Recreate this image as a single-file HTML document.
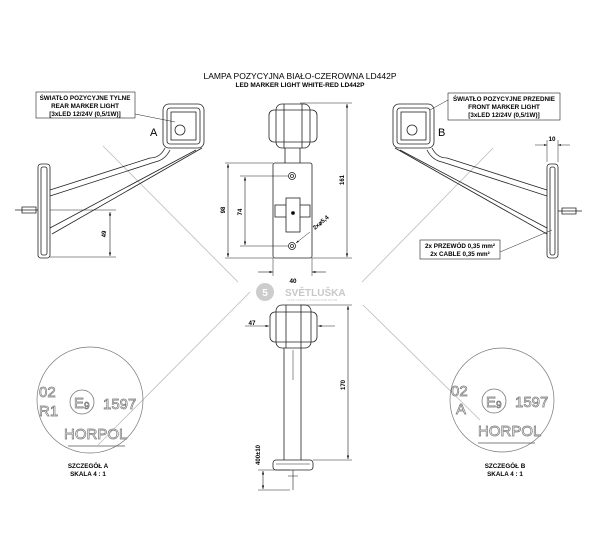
<!DOCTYPE html>
<html><head><meta charset="utf-8"><style>
html,body{margin:0;padding:0;background:#fff;}
svg{display:block;font-family:"Liberation Sans",sans-serif;}
</style></head><body>
<svg width="600" height="555" viewBox="0 0 600 555" xmlns="http://www.w3.org/2000/svg">
<defs>
<marker id="ar" viewBox="0 0 10 10" refX="10" refY="5" markerWidth="6" markerHeight="6" orient="auto-start-reverse"><path d="M0,2 L10,5 L0,8 z" fill="#000"/></marker>
</defs>
<rect width="600" height="555" fill="#fff"/>
<g stroke="#bbb" stroke-width="0.8" fill="none">
<line x1="103" y1="146" x2="238" y2="282"/>
<line x1="250" y1="292" x2="98" y2="445"/>
<line x1="493" y1="148" x2="362" y2="282"/>
<line x1="363" y1="305" x2="480" y2="420"/>
</g>
<text x="300" y="79" font-size="8.5" text-anchor="middle">LAMPA POZYCYJNA BIAŁO-CZEROWNA LD442P</text>
<text x="300" y="87" font-size="6.5" font-weight="bold" text-anchor="middle">LED MARKER LIGHT WHITE-RED LD442P</text>

<g stroke="#222" stroke-width="0.8" fill="none">
<rect x="163" y="104" width="41" height="44" rx="6"/>
<rect x="167" y="108" width="33" height="36" rx="3"/>
<rect x="171" y="112" width="25" height="28"/>
<circle cx="180" cy="130" r="5"/>
<path d="M165,148 Q160,158 150,158 L50,190"/>
<path d="M170,150 Q165,160 155,162 L50,196"/>
<path d="M196,150 L50,228"/>
<path d="M202,148 L52,234"/>
<rect x="38" y="164" width="12" height="94" rx="3"/>
<rect x="41" y="167" width="6" height="88" rx="2"/>
<path d="M15,210 L38,210 M22,207 L36,207 L36,213 L22,213 z"/>
<line x1="50" y1="210" x2="116" y2="210" stroke-width="0.5"/>
<line x1="50" y1="257" x2="116" y2="257" stroke-width="0.5"/>
<line x1="110" y1="212" x2="110" y2="256" marker-start="url(#ar)" marker-end="url(#ar)" stroke-width="0.6"/>
<rect x="36" y="92" width="99" height="26" stroke-width="0.6"/>
<line x1="135" y1="114" x2="175" y2="122" stroke-width="0.5"/>

<rect x="393" y="104" width="41" height="44" rx="6"/>
<rect x="397" y="108" width="33" height="36" rx="3"/>
<rect x="401" y="112" width="25" height="28"/>
<circle cx="412" cy="130" r="5"/>
<path d="M432,148 Q437,158 447,158 L547,190"/>
<path d="M427,150 Q432,160 442,162 L547,196"/>
<path d="M400,150 L547,228"/>
<path d="M395,148 L547,234"/>
<rect x="547" y="164" width="11" height="94" rx="3"/>
<rect x="550" y="167" width="5" height="88" rx="2"/>
<path d="M558,211 L582,211 M562,208 L576,208 L576,214 L562,214 z"/>
<line x1="547" y1="140" x2="547" y2="162" stroke-width="0.5"/>
<line x1="558" y1="140" x2="558" y2="162" stroke-width="0.5"/>
<line x1="535" y1="145" x2="547" y2="145" marker-end="url(#ar)" stroke-width="0.5"/>
<line x1="570" y1="145" x2="558" y2="145" marker-end="url(#ar)" stroke-width="0.5"/>
<rect x="448" y="93" width="112" height="27" stroke-width="0.6"/>
<line x1="448" y1="100" x2="430" y2="110" stroke-width="0.5"/>
<rect x="420" y="240" width="80" height="19" stroke-width="0.6"/>
<line x1="500" y1="252" x2="552" y2="230" stroke-width="0.5"/>

<rect x="269" y="110" width="48" height="32" rx="5"/>
<rect x="276" y="104" width="34" height="44" rx="6"/>
<line x1="284" y1="104" x2="284" y2="148"/>
<line x1="302" y1="104" x2="302" y2="148"/>
<line x1="285" y1="148" x2="285" y2="163"/>
<line x1="300" y1="148" x2="300" y2="163"/>
<rect x="273" y="163" width="39" height="95" rx="2"/>
<circle cx="292" cy="176" r="3.5"/><circle cx="292" cy="176" r="1.5"/>
<circle cx="292" cy="246" r="3.5"/><circle cx="292" cy="246" r="1.5"/>
<rect x="275" y="205" width="35" height="12"/>
<rect x="286" y="198" width="14" height="34" fill="#fff"/>
<circle cx="293" cy="213" r="1.5" fill="#000"/>
<line x1="225" y1="163" x2="273" y2="163" stroke-width="0.5"/>
<line x1="225" y1="258" x2="273" y2="258" stroke-width="0.5"/>
<line x1="240" y1="176" x2="288" y2="176" stroke-width="0.5"/>
<line x1="240" y1="246" x2="288" y2="246" stroke-width="0.5"/>
<line x1="228" y1="164" x2="228" y2="257" marker-start="url(#ar)" marker-end="url(#ar)" stroke-width="0.6"/>
<line x1="245" y1="177" x2="245" y2="245" marker-start="url(#ar)" marker-end="url(#ar)" stroke-width="0.6"/>
<line x1="300" y1="103" x2="352" y2="103" stroke-width="0.5"/>
<line x1="312" y1="258" x2="352" y2="258" stroke-width="0.5"/>
<line x1="347" y1="104" x2="347" y2="257" marker-start="url(#ar)" marker-end="url(#ar)" stroke-width="0.6"/>
<line x1="273" y1="258" x2="273" y2="276" stroke-width="0.5"/>
<line x1="312" y1="258" x2="312" y2="276" stroke-width="0.5"/>
<line x1="258" y1="272" x2="273" y2="272" marker-end="url(#ar)" stroke-width="0.6"/>
<line x1="326" y1="272" x2="312" y2="272" marker-end="url(#ar)" stroke-width="0.6"/>
<line x1="296" y1="243" x2="310" y2="232" marker-start="url(#ar)" stroke-width="0.5"/>

<rect x="270" y="312" width="47" height="30" rx="5"/>
<rect x="276" y="305" width="35" height="43" rx="6"/>
<line x1="286" y1="305" x2="286" y2="348"/>
<line x1="301" y1="305" x2="301" y2="348"/>
<line x1="284" y1="348" x2="284" y2="460"/>
<line x1="301" y1="348" x2="301" y2="460"/>
<line x1="293" y1="350" x2="293" y2="380" stroke-width="0.5"/>
<rect x="273" y="460" width="40" height="10" rx="3"/>
<line x1="276" y1="464" x2="310" y2="464" stroke-width="0.5"/>
<path d="M293,470 L293,490 M288,476 L298,476" stroke-width="0.6"/>
<line x1="300" y1="305" x2="352" y2="305" stroke-width="0.5"/>
<line x1="313" y1="460" x2="352" y2="460" stroke-width="0.5"/>
<line x1="348" y1="306" x2="348" y2="459" marker-start="url(#ar)" marker-end="url(#ar)" stroke-width="0.6"/>
<line x1="245" y1="326" x2="269" y2="326" marker-end="url(#ar)" stroke-width="0.6"/>
<line x1="335" y1="326" x2="318" y2="326" marker-end="url(#ar)" stroke-width="0.6"/>
<line x1="258" y1="470" x2="290" y2="470" stroke-width="0.5"/>
<line x1="258" y1="490" x2="290" y2="490" stroke-width="0.5"/>
<line x1="263" y1="471" x2="263" y2="489" marker-start="url(#ar)" marker-end="url(#ar)" stroke-width="0.6"/>

<circle cx="90" cy="400" r="53" stroke="#777" stroke-width="0.7"/>
<circle cx="502" cy="400" r="52" stroke="#777" stroke-width="0.7"/>
<line x1="68" y1="446" x2="125" y2="446" stroke="#555"/>
<line x1="478" y1="443" x2="535" y2="443" stroke="#555"/>
<circle cx="82" cy="402" r="12" stroke="#777"/>
<circle cx="494" cy="401" r="12" stroke="#777"/>
</g>

<g font-size="6.3" font-weight="bold" text-anchor="middle">
<text x="85" y="100">ŚWIATŁO POZYCYJNE TYLNE</text>
<text x="85" y="108">REAR MARKER LIGHT</text>
<text x="85" y="116">[3xLED 12/24V (0,5/1W)]</text>
<text x="504" y="101">ŚWIATŁO POZYCYJNE PRZEDNIE</text>
<text x="504" y="109">FRONT MARKER LIGHT</text>
<text x="504" y="117">[3xLED 12/24V (0,5/1W)]</text>
<text x="460" y="248">2x PRZEWÓD 0,35 mm²</text>
<text x="460" y="256">2x CABLE 0,35 mm²</text>
<text x="88" y="468">SZCZEGÓŁ A</text>
<text x="88" y="476">SKALA 4 : 1</text>
<text x="505" y="468">SZCZEGÓŁ B</text>
<text x="505" y="476">SKALA 4 : 1</text>
<text x="552" y="141">10</text>
<text x="293" y="283">40</text>
<text x="252" y="325">47</text>
</g>
<text x="150" y="136" font-size="11">A</text>
<text x="438" y="136" font-size="11">B</text>
<g font-size="6" font-weight="bold" text-anchor="middle">
<text transform="translate(106,234) rotate(-90)">49</text>
<text transform="translate(225,210) rotate(-90)">98</text>
<text transform="translate(242,212) rotate(-90)">74</text>
<text transform="translate(344,180) rotate(-90)">161</text>
<text transform="translate(345,385) rotate(-90)">170</text>
<text transform="translate(260,455) rotate(-90)">400±10</text>
<text transform="translate(322,224) rotate(-40)">2x⌀5,4</text>
</g>
<circle cx="265" cy="292" r="9" fill="#ccc"/>
<text x="265" y="296" font-size="10" fill="#fff" text-anchor="middle" font-weight="bold">5</text>
<text x="285" y="296" font-size="10" font-weight="bold" fill="#c8c8c8">SVĚTLUŠKA</text>
<text x="287" y="301" font-size="3" fill="#ccc">VAŠE CESTA K NÁHRADNÍM DÍLŮM</text>
<g fill="#fff" stroke="#777" stroke-width="0.7" font-size="15">
<text x="39" y="397">02</text>
<text x="39" y="416">R1</text>
<text x="74" y="408">E</text>
<text x="84" y="409" font-size="10">9</text>
<text x="103" y="409">1597</text>
<text x="64" y="439">HORPOL</text>
<text x="451" y="396">02</text>
<text x="456" y="414">A</text>
<text x="486" y="407">E</text>
<text x="496" y="408" font-size="10">9</text>
<text x="515" y="407">1597</text>
<text x="478" y="436">HORPOL</text>
</g>
</svg>
</body></html>
